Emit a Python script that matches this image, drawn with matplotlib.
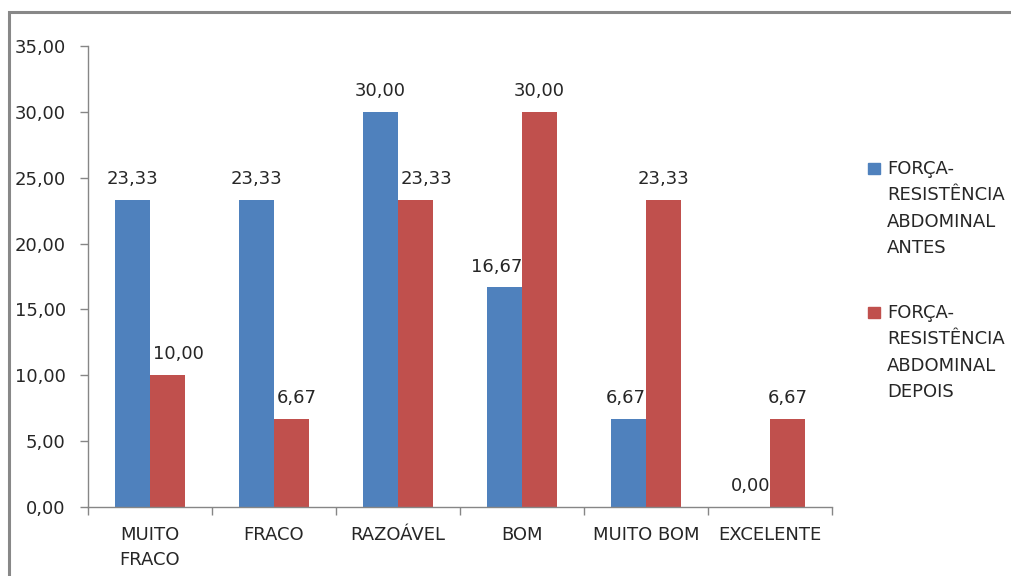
import matplotlib
matplotlib.use("Agg")
import matplotlib.pyplot as plt
import numpy as np
from matplotlib.patches import Rectangle

categories = ["MUITO\nFRACO", "FRACO", "RAZOÁVEL", "BOM", "MUITO BOM", "EXCELENTE"]
antes = [23.33, 23.33, 30.00, 16.67, 6.67, 0.00]
depois = [10.00, 6.67, 23.33, 30.00, 23.33, 6.67]
series_labels = ["FORÇA-\nRESISTÊNCIA\nABDOMINAL\nANTES",
                 "FORÇA-\nRESISTÊNCIA\nABDOMINAL\nDEPOIS"]

BLUE = "#4F81BD"
RED = "#C0504D"
AXIS_GRAY = "#868686"
TEXT = "#262626"

plt.rcParams["font.family"] = "DejaVu Sans"
plt.rcParams["font.size"] = 13

fig = plt.figure(figsize=(10.12, 5.76), dpi=100)
ax = fig.add_axes([88 / 1012, 1 - 507 / 576, (832 - 88) / 1012, (507 - 46) / 576])

# outer chart frame (only top and left edges fall inside the image)
fig.patches.append(Rectangle((9 / 1012, -0.1), 1.2, 1 - 12 / 576 + 0.1,
                             transform=fig.transFigure, fill=False,
                             edgecolor="#888888", linewidth=2.2))

x = np.arange(len(categories))
w = 0.285
b1 = ax.bar(x - w / 2, antes, w, color=BLUE, label=series_labels[0])
b2 = ax.bar(x + w / 2, depois, w, color=RED, label=series_labels[1])


def fmt(v):
    return f"{v:.2f}".replace(".", ",")


# value labels; the lower bar of a pair keeps its label clear of the taller one
for i in x:
    a, d = antes[i], depois[i]
    ra, rd = b1[i], b2[i]
    if a >= d:
        pos_a = (ra.get_x() + ra.get_width() / 2, "center", 0)
        pos_d = (rd.get_x(), "left", 2) if d < a else (rd.get_x() + rd.get_width() / 2, "center", 0)
    else:
        pos_a = (ra.get_x() + ra.get_width(), "right", 0)
        pos_d = (rd.get_x() + rd.get_width() / 2, "center", 0)
    for v, (xp, ha, dx) in ((a, pos_a), (d, pos_d)):
        ax.annotate(fmt(v), (xp, v), xytext=(dx, 15), textcoords="offset points",
                    ha=ha, va="center", color=TEXT)

ax.set_xlim(-0.5, len(categories) - 0.5)
ax.set_ylim(0, 35)
yt = np.arange(0, 35.01, 5)
ax.set_yticks(yt)
ax.set_yticklabels([fmt(v) for v in yt])

# boundary ticks between categories, labels at the centres
ax.set_xticks(np.arange(len(categories) + 1) - 0.5)
ax.set_xticklabels([])
ax.set_xticks(x, minor=True)
ax.set_xticklabels(categories, minor=True, linespacing=1.5)
ax.tick_params(axis="x", which="major", length=6, color=AXIS_GRAY, width=1)
ax.tick_params(axis="x", which="minor", length=0, pad=14, colors=TEXT)
ax.tick_params(axis="y", length=6, color=AXIS_GRAY, width=1, pad=10,
               labelcolor=TEXT)

for side in ("top", "right"):
    ax.spines[side].set_visible(False)
for side in ("left", "bottom"):
    ax.spines[side].set_color(AXIS_GRAY)
    ax.spines[side].set_linewidth(1)

# legend: square aligned with first line of each label
for (lbl, col), ytop in zip(zip(series_labels, (BLUE, RED)), (163, 307)):
    fig.patches.append(Rectangle((868 / 1012, 1 - (ytop + 11) / 576),
                                 12 / 1012, 11 / 576,
                                 transform=fig.transFigure, color=col))
    fig.text(887 / 1012, 1 - (ytop - 3) / 576, lbl, ha="left", va="top",
             color=TEXT, linespacing=1.6)

fig.savefig("out.png", dpi=100)
